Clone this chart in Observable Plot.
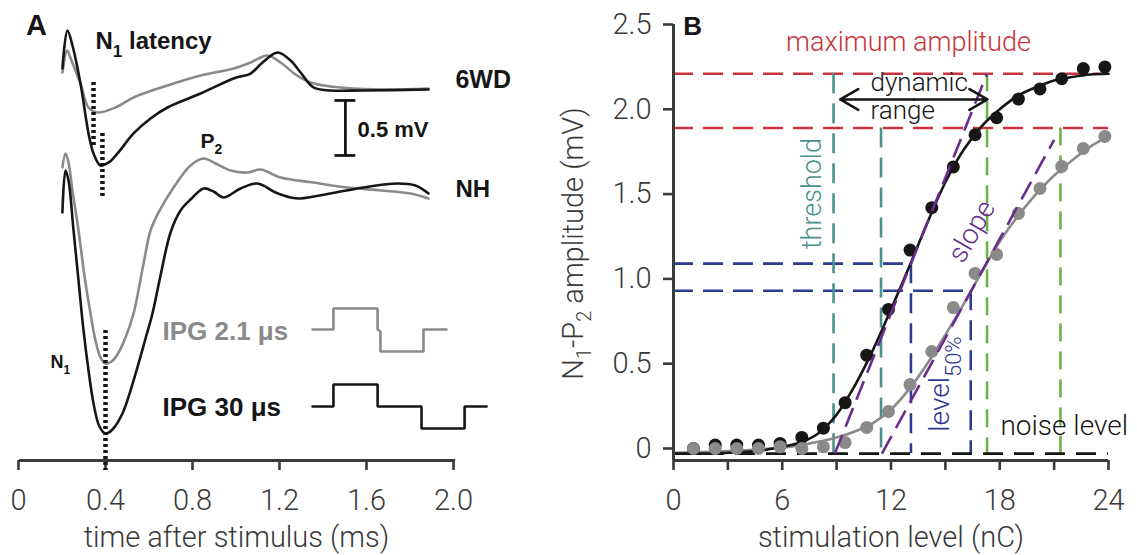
<!DOCTYPE html>
<html><head><meta charset="utf-8">
<script src="https://cdn.jsdelivr.net/npm/d3@7"></script>
<script src="https://cdn.jsdelivr.net/npm/@observablehq/plot@0.6"></script>
<style>
body{margin:0;background:#fff;}
#wrap{position:relative;width:1137px;height:555px;overflow:hidden;background:#fff;}
#wrap > svg{position:absolute;top:0;}
</style></head><body><div id="wrap"></div>
<script>
// ---------------- Panel A data ----------------
const timeTicks = [0, 0.4, 0.8, 1.2, 1.6, 2.0];
// 6WD traces (time ms, displayed voltage mV)
const wd6GrayT = [0.202,0.224,0.239,0.285,0.322,0.363,0.446,0.529,0.685,0.837,0.989,1.067,1.145,1.205,1.274,1.343,1.434,1.664,1.885];
const wd6GrayV = [3.527,3.727,3.66,3.427,3.209,3.164,3.209,3.30,3.409,3.5,3.564,3.618,3.682,3.618,3.509,3.436,3.40,3.373,3.382];
const wd6BlackT = [0.202,0.225,0.248,0.285,0.322,0.345,0.377,0.414,0.455,0.529,0.607,0.685,0.837,0.989,1.067,1.122,1.191,1.251,1.297,1.356,1.434,1.586,1.885];
const wd6BlackV = [3.564,3.909,3.773,3.427,2.973,2.791,2.682,2.709,2.791,2.973,3.109,3.209,3.336,3.473,3.518,3.618,3.709,3.636,3.527,3.391,3.364,3.364,3.373];
// NH traces
const nhGrayT = [0.202,0.216,0.230,0.248,0.276,0.303,0.331,0.354,0.377,0.4,0.428,0.455,0.492,0.529,0.575,0.607,0.644,0.713,0.791,0.851,0.906,0.975,1.053,1.113,1.205,1.356,1.513,1.664,1.802,1.885];
const nhGrayV = [2.664,2.791,2.709,2.455,2.091,1.682,1.336,1.091,0.936,0.882,0.9,0.964,1.118,1.336,1.791,2.091,2.255,2.482,2.682,2.745,2.7,2.636,2.618,2.645,2.573,2.527,2.482,2.455,2.427,2.382];
const nhBlackT = [0.202,0.216,0.230,0.253,0.276,0.299,0.322,0.345,0.372,0.4,0.432,0.478,0.515,0.552,0.584,0.616,0.653,0.699,0.745,0.791,0.851,0.897,0.943,1.021,1.099,1.182,1.251,1.297,1.434,1.586,1.743,1.825,1.885];
const nhBlackV = [2.255,2.636,2.545,2.091,1.636,1.182,0.818,0.518,0.309,0.245,0.282,0.427,0.636,0.882,1.109,1.336,1.682,2.073,2.273,2.373,2.473,2.445,2.391,2.473,2.518,2.436,2.391,2.382,2.427,2.482,2.518,2.5,2.427];
// stimulus pulse schematics
const pulseGrayT = [1.352,1.448,1.448,1.651,1.651,1.664,1.664,1.862,1.862,1.968];
const pulseGrayV = [1.191,1.191,1.382,1.382,1.191,1.173,0.991,0.991,1.191,1.191];
const pulseBlackT = [1.352,1.448,1.448,1.651,1.651,1.853,1.853,2.051,2.051,2.152];
const pulseBlackV = [0.491,0.491,0.691,0.691,0.491,0.491,0.291,0.291,0.491,0.491];
// N1 latency markers
const latencyT = [0.345, 0.386, 0.4];
const latencyTop = [3.436, 2.973, 1.182];
const latencyBottom = [2.864, 2.391, -0.091];
// scale bar 0.5 mV
const scaleBarT = 1.503, scaleBarBase = 2.773, scaleBarMv = 0.5;

// ---------------- Panel B data ----------------
const levelTicks = [0, 3, 6, 9, 12, 15, 18, 21, 24];
const amplitudeTicks = [0, 0.5, 1.0, 1.5, 2.0, 2.5];
const stimLevels = [1.1,2.3,3.49,4.69,5.88,7.08,8.27,9.47,10.66,11.86,13.05,14.25,15.44,16.64,17.83,19.03,20.22,21.42,22.61,23.8];
const ampIPG30 = [0.0,0.02,0.02,0.02,0.03,0.065,0.12,0.27,0.55,0.82,1.17,1.42,1.66,1.85,1.95,2.06,2.12,2.18,2.24,2.25];
const ampIPG2 = [0.0,0.0,0.0,0.0,0.01,0.0,0.01,0.035,0.124,0.218,0.377,0.572,0.831,1.032,1.144,1.386,1.533,1.663,1.769,1.84];
const fitLevels = [0,1,2,3,4,5,6,7,8,9,10,11,12,13,14,15,16,17,18,19,20,21,22,23,24];
const fitIPG30 = [-0.03,-0.03,-0.03,-0.025,-0.02,-0.01,0.01,0.035,0.09,0.2,0.37,0.58,0.82,1.07,1.33,1.57,1.76,1.9,2.0,2.08,2.13,2.17,2.19,2.205,2.21];
const fitIPG2 = [-0.025,-0.023,-0.02,-0.015,-0.01,-0.003,0.005,0.02,0.04,0.065,0.1,0.15,0.23,0.35,0.5,0.67,0.85,1.04,1.22,1.37,1.5,1.61,1.7,1.78,1.84];
const maxAmplitude = [2.21, 1.89];
const noiseLevel = -0.03;
const thresholdLevel = [8.83, 11.45];
const saturationLevel = [17.3, 21.35];
const halfLevel = [13.1, 16.4];
const halfAmplitude = [1.09, 0.93];
const slopeStart = [8.9, 11.5];
const slopeEnd = [17.3, 21.0];
const slopeEndAmp = [2.21, 1.82];
const dynamicRange = [9.2, 17.32];
const dynamicRangeAmp = 2.058;

// ---------------- styles ----------------
const LIGHT = "Roboto, 'Liberation Sans', Arial, sans-serif";
const BOLD = "'Liberation Sans', Arial, sans-serif";
const AX = "#3a3a3a", BLACK = "#161616", GRAY = "#8a8a8a";
const RED = "#c8333b", TEAL = "#4b918d", GREEN = "#6cb443", BLUE = "#2d3b91", PURPLE = "#6a2d8f";
const idx2 = [0, 1];

const lineOpts = (T, V, stroke) => Plot.line(T, {x: d => d, y: (d, i) => V[i], stroke, strokeWidth: 2.6, curve: "catmull-rom"});
const stepOpts = (T, V, stroke) => Plot.line(T, {x: d => d, y: (d, i) => V[i], stroke, strokeWidth: 2.6, curve: "linear", strokeLinejoin: "miter"});
const bold = (txt, x, y, size, extra = {}) => Plot.text([txt], {x, y, text: d => d, fontFamily: BOLD, fontWeight: "bold", fontSize: size, textAnchor: "start", lineAnchor: "middle", fill: BLACK, ...extra});

const plotA = Plot.plot({
  width: 540, height: 555,
  marginLeft: 18, marginRight: 87, marginTop: 0, marginBottom: 95,
  x: {domain: [0, 2]},
  y: {domain: [0, 4.1818], axis: null},
  style: {fontFamily: LIGHT, fontWeight: 300, background: "transparent", overflow: "visible"},
  marks: [
    Plot.ruleY([0], {x1: 0.005, x2: 2.01, stroke: AX, strokeWidth: 3}),
    Plot.axisX({ticks: timeTicks, tickFormat: d => d === 0 ? "0" : d.toFixed(1), tickSize: 10, tickPadding: 19, fontSize: 29, color: AX, strokeWidth: 2.6, label: null}),
    lineOpts(wd6GrayT, wd6GrayV, GRAY),
    lineOpts(wd6BlackT, wd6BlackV, BLACK),
    lineOpts(nhGrayT, nhGrayV, GRAY),
    lineOpts(nhBlackT, nhBlackV, BLACK),
    stepOpts(pulseGrayT, pulseGrayV, GRAY),
    stepOpts(pulseBlackT, pulseBlackV, BLACK),
    Plot.ruleX(latencyT, {x: d => d, y1: (d, i) => latencyTop[i], y2: (d, i) => latencyBottom[i], stroke: BLACK, strokeWidth: 4.5, strokeDasharray: "3,3"}),
    Plot.ruleX([scaleBarT], {y1: scaleBarBase, y2: scaleBarBase + scaleBarMv, stroke: BLACK, strokeWidth: 2.8}),
    Plot.ruleY([scaleBarBase, scaleBarBase + scaleBarMv], {x1: scaleBarT - 0.048, x2: scaleBarT + 0.048, stroke: BLACK, strokeWidth: 2.8}),
    bold("A", 0.083, 3.955, 29, {textAnchor: "middle"}),
    bold("N1 latency", 0.354, 3.809, 24),
    bold("6WD", 2.009, 3.455, 25),
    bold("0.5 mV", 1.559, 3.009, 22),
    bold("NH", 2.009, 2.464, 24),
    bold("P2", 0.837, 2.9, 21),
    bold("N1", 0.147, 0.895, 18),
    bold("IPG 2.1 μs", 0.662, 1.173, 26, {fill: GRAY}),
    bold("IPG 30 μs", 0.662, 0.477, 26),
    Plot.text(["time after stimulus (ms)"], {x: 1.002, y: -0.706, text: d => d, fontSize: 29, fill: AX, textAnchor: "middle", lineAnchor: "middle"})
  ]
});

const plotB = Plot.plot({
  width: 597, height: 555,
  marginLeft: 133, marginRight: 29, marginTop: 24, marginBottom: 95,
  x: {domain: [0, 24]},
  y: {domain: [-0.0708, 2.5]},
  style: {fontFamily: LIGHT, fontWeight: 300, background: "transparent", overflow: "visible"},
  marks: [
    Plot.ruleY(maxAmplitude, {x1: 0, x2: 24, stroke: RED, strokeWidth: 2.6, strokeDasharray: "20,10"}),
    Plot.ruleY(idx2, {y: i => halfAmplitude[i], x1: 0, x2: i => halfLevel[i], stroke: BLUE, strokeWidth: 2.6, strokeDasharray: "20,10"}),
    Plot.ruleX(idx2, {x: i => halfLevel[i], y1: i => halfAmplitude[i], y2: noiseLevel, stroke: BLUE, strokeWidth: 2.6, strokeDasharray: "20,10"}),
    Plot.ruleX(idx2, {x: i => thresholdLevel[i], y1: i => maxAmplitude[i], y2: noiseLevel, stroke: TEAL, strokeWidth: 2.6, strokeDasharray: "20,10"}),
    Plot.ruleX(idx2, {x: i => saturationLevel[i], y1: i => maxAmplitude[i], y2: noiseLevel, stroke: GREEN, strokeWidth: 2.6, strokeDasharray: "18,10"}),
    Plot.ruleY([noiseLevel], {x1: 0, x2: 24, stroke: BLACK, strokeWidth: 2.6, strokeDasharray: "20,11"}),
    Plot.line(fitLevels, {x: d => d, y: (d, i) => fitIPG2[i], stroke: GRAY, strokeWidth: 2.6, curve: "catmull-rom"}),
    Plot.line(fitLevels, {x: d => d, y: (d, i) => fitIPG30[i], stroke: BLACK, strokeWidth: 2.6, curve: "catmull-rom"}),
    Plot.dot(stimLevels, {x: d => d, y: (d, i) => ampIPG30[i], r: 6.5, fill: BLACK}),
    Plot.dot(stimLevels, {x: d => d, y: (d, i) => ampIPG2[i], r: 6.5, fill: GRAY}),
    Plot.link(idx2, {x1: i => slopeStart[i], y1: noiseLevel, x2: i => slopeEnd[i], y2: i => slopeEndAmp[i], stroke: PURPLE, strokeWidth: 2.6, strokeDasharray: "20,9"}),
    Plot.arrow(idx2, {x1: (dynamicRange[0] + dynamicRange[1]) / 2, y1: dynamicRangeAmp, x2: i => dynamicRange[i], y2: dynamicRangeAmp, stroke: BLACK, strokeWidth: 2.6, headLength: 12, insetStart: 0, insetEnd: 0}),
    Plot.ruleX([0], {stroke: AX, strokeWidth: 3}),
    Plot.ruleY([-0.0708], {stroke: AX, strokeWidth: 3}),
    Plot.axisX({ticks: levelTicks, tickFormat: d => d % 6 === 0 ? String(d) : "", tickSize: 10, tickPadding: 19, fontSize: 29, color: AX, strokeWidth: 2.6, label: null}),
    Plot.axisY({ticks: amplitudeTicks, tickFormat: d => d === 0 ? "0" : d.toFixed(1), tickSize: 10, tickPadding: 12, fontSize: 29, color: AX, strokeWidth: 2.6, label: null}),
    Plot.text(["B"], {x: 1.05, y: 2.488, text: d => d, fontFamily: BOLD, fontWeight: "bold", fontSize: 26, fill: BLACK, textAnchor: "middle", lineAnchor: "middle"}),
    Plot.text(["maximum amplitude"], {x: 12.97, y: 2.396, text: d => d, fontSize: 27, fill: RED, textAnchor: "middle", lineAnchor: "middle"}),
    Plot.text(["dynamic"], {x: 10.87, y: 2.158, text: d => d, fontSize: 26, fill: BLACK, textAnchor: "start", lineAnchor: "middle"}),
    Plot.text(["range"], {x: 10.87, y: 1.99, text: d => d, fontSize: 26, fill: BLACK, textAnchor: "start", lineAnchor: "middle"}),
    Plot.text(["threshold"], {x: 7.67, y: 1.503, text: d => d, fontSize: 27, fill: TEAL, rotate: -90, textAnchor: "middle", lineAnchor: "middle"}),
    Plot.text(["slope"], {x: 16.45, y: 1.28, text: d => d, fontSize: 28, fill: PURPLE, rotate: -60, textAnchor: "middle", lineAnchor: "middle"}),
    Plot.text(["level50%"], {x: 14.68, y: 0.38, text: d => d, fontSize: 28, fill: BLUE, rotate: -90, textAnchor: "middle", lineAnchor: "middle"}),
    Plot.text(["noise level"], {x: 18.04, y: 0.13, text: d => d, fontSize: 28, fill: BLACK, textAnchor: "start", lineAnchor: "middle"}),
    Plot.text(["stimulation level (nC)"], {x: 12.0, y: -0.529, text: d => d, fontSize: 29, fill: AX, textAnchor: "middle", lineAnchor: "middle"}),
    Plot.text(["N1-P2 amplitude (mV)"], {x: -5.52, y: 1.209, text: d => d, fontSize: 29, fill: AX, rotate: -90, textAnchor: "middle", lineAnchor: "middle"})
  ]
});

function withSubs(svg, plain, parts) {
  for (const t of svg.querySelectorAll("text")) {
    if (t.textContent === plain) {
      t.textContent = "";
      for (const p of parts) {
        const ts = document.createElementNS("http://www.w3.org/2000/svg", "tspan");
        ts.textContent = p[0];
        if (p[1]) ts.setAttribute("font-size", p[1]);
        if (p[2]) ts.setAttribute("dy", p[2]);
        t.appendChild(ts);
      }
    }
  }
}
withSubs(plotA, "N1 latency", [["N"], ["1", 17, 8], [" latency", null, -8]]);
withSubs(plotA, "P2", [["P"], ["2", 14, 6]]);
withSubs(plotA, "N1", [["N"], ["1", 12, 6]]);
withSubs(plotB, "level50%", [["level"], ["50%", 22, 12]]);
withSubs(plotB, "N1-P2 amplitude (mV)", [["N"], ["1", 20, 8], ["-P", null, -8], ["2", 20, 8], [" amplitude (mV)", null, -8]]);

plotA.style.left = "0px";
plotB.style.left = "540px";
const wrap = document.getElementById("wrap");
wrap.appendChild(plotA);
wrap.appendChild(plotB);
</script></body></html>
